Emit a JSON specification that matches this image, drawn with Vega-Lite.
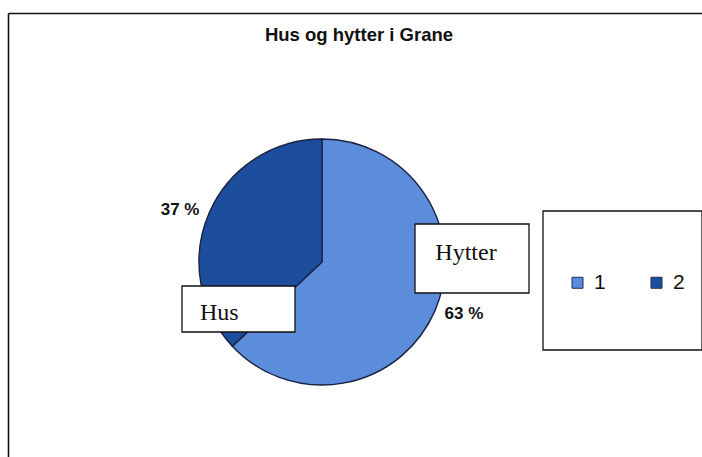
{
  "$schema": "https://vega.github.io/schema/vega-lite/v6.json",
  "autosize": "none",
  "width": 694,
  "height": 444,
  "padding": {"left": 8, "top": 13, "right": 0, "bottom": 0},
  "background": "white",
  "title": {
    "text": "Hus og hytter i Grane",
    "font": "Liberation Sans",
    "fontSize": 18.5,
    "fontWeight": "bold",
    "color": "#111111",
    "anchor": "middle",
    "frame": "group",
    "baseline": "alphabetic",
    "offset": -46,
    "dx": 4
  },
  "config": {
    "view": {"stroke": null},
    "axis": {
      "domain": true,
      "domainColor": "#111111",
      "domainWidth": 1.6,
      "ticks": false,
      "labels": false,
      "grid": false,
      "title": null
    },
    "legend": {
      "orient": "none",
      "legendX": 559,
      "legendY": 259,
      "direction": "horizontal",
      "columns": 2,
      "symbolType": "square",
      "symbolSize": 121,
      "symbolStrokeColor": "#1b2b55",
      "symbolStrokeWidth": 1,
      "labelFont": "Liberation Sans",
      "labelFontSize": 21,
      "labelColor": "#111111",
      "labelOffset": 6,
      "columnPadding": 40,
      "padding": 0
    }
  },
  "data": {
    "values": [
      {"category": "1", "name": "Hytter", "share": 63, "pct": "63 %"},
      {"category": "2", "name": "Hus", "share": 37, "pct": "37 %"}
    ]
  },
  "layer": [
    {
      "data": {"values": [{}]},
      "mark": {"type": "rect", "fill": "white", "stroke": "#111111", "strokeWidth": 1.3},
      "encoding": {
        "x": {"datum": 535, "type": "quantitative", "scale": {"domain": [0, 694], "nice": false, "zero": false}, "axis": {"orient": "top"}},
        "x2": {"datum": 694},
        "y": {"datum": 198, "type": "quantitative", "scale": {"domain": [0, 444], "reverse": true, "nice": false, "zero": false}, "axis": {"orient": "left"}},
        "y2": {"datum": 337}
      }
    },
    {
      "mark": {"type": "arc", "outerRadius": 123, "stroke": "#1a2140", "strokeWidth": 1.4},
      "encoding": {
        "x": {"datum": 314, "type": "quantitative"},
        "y": {"datum": 249, "type": "quantitative"},
        "theta": {"field": "share", "type": "quantitative", "stack": true},
        "order": {"field": "category"},
        "color": {
          "field": "category",
          "type": "nominal",
          "scale": {"domain": ["1", "2"], "range": ["#5b8ddb", "#1d4e9e"]},
          "legend": {"title": null}
        }
      }
    },
    {
      "mark": {"type": "text", "radius": 151, "thetaOffset": -0.06, "font": "Liberation Sans", "fontSize": 17, "fontWeight": "bold", "color": "#111111", "align": "center", "baseline": "middle"},
      "encoding": {
        "x": {"datum": 314, "type": "quantitative"},
        "y": {"datum": 249, "type": "quantitative"},
        "theta": {"field": "share", "type": "quantitative", "stack": true},
        "order": {"field": "category"},
        "text": {"field": "pct"}
      }
    },
    {
      "data": {"values": [{}]},
      "mark": {"type": "rect", "fill": "white", "stroke": "#111111", "strokeWidth": 1.3},
      "encoding": {
        "x": {"datum": 407, "type": "quantitative"},
        "x2": {"datum": 521},
        "y": {"datum": 211, "type": "quantitative"},
        "y2": {"datum": 280}
      }
    },
    {
      "data": {"values": [{"label": "Hytter"}]},
      "mark": {"type": "text", "font": "Liberation Serif", "fontSize": 24, "color": "#111111", "align": "center", "baseline": "alphabetic"},
      "encoding": {
        "x": {"datum": 458, "type": "quantitative"},
        "y": {"datum": 247, "type": "quantitative"},
        "text": {"field": "label"}
      }
    },
    {
      "data": {"values": [{}]},
      "mark": {"type": "rect", "fill": "white", "stroke": "#111111", "strokeWidth": 1.3},
      "encoding": {
        "x": {"datum": 174, "type": "quantitative"},
        "x2": {"datum": 287},
        "y": {"datum": 273, "type": "quantitative"},
        "y2": {"datum": 319}
      }
    },
    {
      "data": {"values": [{"label": "Hus"}]},
      "mark": {"type": "text", "font": "Liberation Serif", "fontSize": 24, "color": "#111111", "align": "left", "baseline": "alphabetic"},
      "encoding": {
        "x": {"datum": 192, "type": "quantitative"},
        "y": {"datum": 307, "type": "quantitative"},
        "text": {"field": "label"}
      }
    }
  ]
}
